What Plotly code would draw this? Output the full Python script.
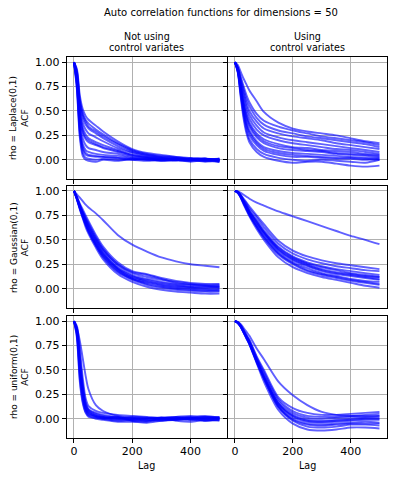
import plotly.graph_objects as go
from plotly.subplots import make_subplots

lags = [0, 10, 20, 30, 40, 50, 75, 100, 150, 200, 250, 300, 350, 400, 450, 499]

row_names = ["Laplace(0,1)", "Gaussian(0,1)", "uniform(0,1)"]
col_names = [["Not using", "control variates"], ["Using", "control variates"]]

laplace_plain = [
    [1, 0.93, 0.66, 0.52, 0.45, 0.41, 0.35, 0.29, 0.19, 0.11, 0.07, 0.05, 0.03, 0.02, 0.01, 0.00],
    [1, 0.91, 0.62, 0.48, 0.41, 0.37, 0.31, 0.26, 0.17, 0.10, 0.06, 0.04, 0.03, 0.01, 0.00, 0.01],
    [1, 0.89, 0.58, 0.43, 0.36, 0.32, 0.27, 0.22, 0.14, 0.08, 0.05, 0.03, 0.02, 0.00, 0.01, -0.01],
    [1, 0.87, 0.54, 0.38, 0.31, 0.27, 0.23, 0.19, 0.12, 0.07, 0.04, 0.02, 0.01, 0.01, 0.00, 0.00],
    [1, 0.85, 0.50, 0.33, 0.26, 0.22, 0.18, 0.15, 0.10, 0.05, 0.03, 0.02, 0.00, -0.01, 0.00, -0.02],
    [1, 0.83, 0.45, 0.28, 0.21, 0.18, 0.15, 0.12, 0.08, 0.04, 0.02, 0.01, 0.01, 0.00, -0.01, 0.01],
    [1, 0.81, 0.40, 0.22, 0.15, 0.12, 0.10, 0.08, 0.06, 0.03, 0.02, 0.00, 0.00, -0.01, 0.00, -0.01],
    [1, 0.79, 0.35, 0.16, 0.10, 0.08, 0.06, 0.05, 0.04, 0.02, 0.01, 0.01, 0.00, 0.00, -0.02, 0.00],
    [1, 0.77, 0.30, 0.11, 0.05, 0.04, 0.03, 0.03, 0.02, 0.01, 0.00, 0.00, -0.01, 0.00, 0.01, -0.02],
    [1, 0.74, 0.26, 0.07, 0.02, 0.01, 0.00, 0.01, 0.00, 0.00, -0.01, 0.00, 0.00, -0.02, 0.00, 0.01],
    [1, 0.72, 0.23, 0.04, 0.00, -0.01, -0.02, 0.00, -0.01, 0.01, 0.00, -0.01, 0.00, 0.00, -0.01, -0.02],
    [1, 0.90, 0.60, 0.46, 0.39, 0.34, 0.29, 0.24, 0.16, 0.09, 0.05, 0.03, 0.02, 0.01, 0.01, 0.00],
    [1, 0.86, 0.48, 0.30, 0.23, 0.20, 0.16, 0.13, 0.09, 0.05, 0.03, 0.01, 0.01, 0.00, 0.01, -0.01],
    [1, 0.78, 0.33, 0.13, 0.07, 0.05, 0.04, 0.03, 0.02, 0.00, 0.01, -0.01, 0.00, 0.01, -0.01, 0.00],
]

laplace_cv = [
    [1, 0.97, 0.90, 0.83, 0.77, 0.71, 0.60, 0.49, 0.38, 0.32, 0.29, 0.27, 0.25, 0.22, 0.19, 0.17],
    [1, 0.95, 0.85, 0.75, 0.66, 0.59, 0.47, 0.40, 0.34, 0.30, 0.27, 0.24, 0.22, 0.20, 0.18, 0.15],
    [1, 0.94, 0.83, 0.72, 0.62, 0.55, 0.43, 0.36, 0.30, 0.27, 0.24, 0.22, 0.20, 0.18, 0.16, 0.13],
    [1, 0.94, 0.81, 0.69, 0.58, 0.50, 0.39, 0.32, 0.27, 0.24, 0.22, 0.20, 0.17, 0.15, 0.13, 0.11],
    [1, 0.93, 0.79, 0.66, 0.54, 0.46, 0.35, 0.28, 0.23, 0.20, 0.18, 0.16, 0.14, 0.12, 0.10, 0.08],
    [1, 0.93, 0.77, 0.62, 0.50, 0.42, 0.31, 0.25, 0.20, 0.17, 0.15, 0.13, 0.11, 0.10, 0.08, 0.06],
    [1, 0.92, 0.75, 0.58, 0.46, 0.38, 0.27, 0.21, 0.16, 0.13, 0.12, 0.10, 0.09, 0.08, 0.06, 0.05],
    [1, 0.92, 0.73, 0.55, 0.42, 0.34, 0.23, 0.17, 0.12, 0.10, 0.09, 0.08, 0.06, 0.05, 0.04, 0.03],
    [1, 0.91, 0.71, 0.52, 0.38, 0.30, 0.19, 0.13, 0.09, 0.07, 0.06, 0.05, 0.04, 0.03, 0.02, 0.02],
    [1, 0.90, 0.68, 0.48, 0.34, 0.25, 0.15, 0.09, 0.05, 0.03, 0.03, 0.02, 0.01, 0.01, 0.00, 0.01],
    [1, 0.90, 0.66, 0.45, 0.30, 0.21, 0.11, 0.06, 0.02, 0.00, -0.01, 0.00, -0.01, -0.02, -0.03, 0.00],
    [1, 0.89, 0.64, 0.42, 0.27, 0.18, 0.08, 0.03, -0.01, -0.03, -0.02, -0.02, -0.04, -0.06, -0.07, -0.06],
    [1, 0.92, 0.74, 0.57, 0.44, 0.36, 0.25, 0.19, 0.14, 0.12, 0.10, 0.09, 0.07, 0.06, 0.05, 0.04],
    [1, 0.91, 0.70, 0.50, 0.36, 0.28, 0.17, 0.11, 0.07, 0.05, 0.04, 0.03, 0.02, 0.02, 0.01, 0.00],
]

gauss_plain = [
    [1, 0.965, 0.93, 0.895, 0.86, 0.83, 0.77, 0.70, 0.55, 0.45, 0.38, 0.32, 0.28, 0.25, 0.235, 0.22],
    [1, 0.94, 0.87, 0.81, 0.75, 0.69, 0.55, 0.43, 0.27, 0.18, 0.15, 0.11, 0.08, 0.06, 0.05, 0.05],
    [1, 0.935, 0.86, 0.79, 0.73, 0.67, 0.53, 0.41, 0.25, 0.16, 0.12, 0.09, 0.07, 0.05, 0.04, 0.04],
    [1, 0.93, 0.85, 0.78, 0.71, 0.65, 0.51, 0.39, 0.23, 0.14, 0.10, 0.07, 0.05, 0.04, 0.03, 0.02],
    [1, 0.925, 0.84, 0.77, 0.70, 0.63, 0.49, 0.37, 0.21, 0.13, 0.08, 0.05, 0.03, 0.02, 0.01, 0.02],
    [1, 0.92, 0.83, 0.75, 0.68, 0.61, 0.47, 0.35, 0.20, 0.11, 0.07, 0.04, 0.02, 0.01, 0.00, 0.00],
    [1, 0.92, 0.83, 0.74, 0.66, 0.59, 0.45, 0.33, 0.18, 0.10, 0.05, 0.02, 0.00, -0.01, -0.02, -0.01],
    [1, 0.915, 0.82, 0.73, 0.65, 0.58, 0.44, 0.32, 0.17, 0.09, 0.04, 0.01, -0.01, -0.02, -0.03, -0.03],
    [1, 0.91, 0.81, 0.72, 0.63, 0.56, 0.42, 0.30, 0.15, 0.07, 0.02, -0.01, -0.03, -0.04, -0.05, -0.05],
    [1, 0.93, 0.85, 0.78, 0.71, 0.65, 0.51, 0.40, 0.25, 0.17, 0.14, 0.10, 0.06, 0.04, 0.03, 0.03],
    [1, 0.925, 0.84, 0.76, 0.69, 0.62, 0.48, 0.36, 0.21, 0.12, 0.09, 0.06, 0.04, 0.02, 0.02, 0.01],
    [1, 0.92, 0.82, 0.74, 0.66, 0.59, 0.45, 0.34, 0.19, 0.10, 0.06, 0.03, 0.01, 0.00, -0.01, -0.02],
]

gauss_cv = [
    [1, 0.995, 0.98, 0.96, 0.94, 0.92, 0.88, 0.85, 0.79, 0.74, 0.69, 0.64, 0.59, 0.54, 0.50, 0.455],
    [1, 0.99, 0.96, 0.92, 0.88, 0.84, 0.75, 0.66, 0.49, 0.39, 0.33, 0.29, 0.26, 0.24, 0.22, 0.20],
    [1, 0.99, 0.955, 0.91, 0.87, 0.82, 0.73, 0.63, 0.46, 0.36, 0.30, 0.26, 0.23, 0.21, 0.19, 0.18],
    [1, 0.99, 0.95, 0.90, 0.85, 0.80, 0.70, 0.60, 0.43, 0.33, 0.27, 0.23, 0.20, 0.18, 0.16, 0.14],
    [1, 0.985, 0.945, 0.89, 0.84, 0.79, 0.68, 0.58, 0.41, 0.31, 0.25, 0.20, 0.17, 0.15, 0.13, 0.12],
    [1, 0.985, 0.94, 0.88, 0.83, 0.77, 0.66, 0.56, 0.39, 0.29, 0.23, 0.18, 0.15, 0.13, 0.11, 0.09],
    [1, 0.98, 0.94, 0.88, 0.82, 0.76, 0.64, 0.54, 0.37, 0.27, 0.21, 0.16, 0.13, 0.10, 0.08, 0.07],
    [1, 0.98, 0.935, 0.87, 0.81, 0.75, 0.63, 0.52, 0.35, 0.25, 0.18, 0.14, 0.11, 0.08, 0.06, 0.04],
    [1, 0.98, 0.93, 0.86, 0.80, 0.74, 0.61, 0.50, 0.32, 0.22, 0.16, 0.12, 0.09, 0.06, 0.03, 0.01],
    [1, 0.985, 0.95, 0.90, 0.84, 0.79, 0.69, 0.58, 0.42, 0.32, 0.26, 0.22, 0.19, 0.16, 0.14, 0.12],
    [1, 0.985, 0.94, 0.885, 0.83, 0.78, 0.67, 0.57, 0.40, 0.30, 0.24, 0.19, 0.16, 0.14, 0.12, 0.10],
    [1, 0.98, 0.935, 0.875, 0.815, 0.755, 0.635, 0.53, 0.36, 0.26, 0.19, 0.15, 0.12, 0.09, 0.07, 0.05],
]

unif_plain = [
    [1, 0.93, 0.80, 0.62, 0.44, 0.30, 0.14, 0.08, 0.03, 0.01, 0.00, 0.01, 0.00, 0.01, 0.00, 0.01],
    [1, 0.95, 0.72, 0.42, 0.21, 0.13, 0.08, 0.06, 0.04, 0.03, 0.02, 0.01, 0.02, 0.03, 0.02, 0.02],
    [1, 0.93, 0.65, 0.36, 0.17, 0.10, 0.06, 0.04, 0.02, 0.01, 0.00, 0.01, 0.02, 0.01, 0.03, 0.01],
    [1, 0.91, 0.58, 0.30, 0.14, 0.08, 0.04, 0.02, 0.00, 0.02, 0.01, -0.01, 0.00, 0.02, 0.00, 0.01],
    [1, 0.89, 0.52, 0.26, 0.11, 0.06, 0.03, 0.01, -0.01, 0.00, -0.02, 0.00, 0.01, 0.00, 0.01, 0.00],
    [1, 0.87, 0.46, 0.22, 0.09, 0.04, 0.02, 0.00, -0.02, -0.01, -0.01, -0.02, 0.00, -0.01, -0.02, -0.01],
    [1, 0.85, 0.41, 0.18, 0.07, 0.03, 0.00, -0.01, -0.03, -0.03, -0.04, -0.02, -0.01, 0.01, -0.02, 0.00],
    [1, 0.83, 0.38, 0.16, 0.06, 0.02, 0.01, 0.00, 0.02, -0.02, -0.03, 0.00, -0.02, -0.03, -0.01, -0.02],
    [1, 0.90, 0.55, 0.28, 0.12, 0.07, 0.03, 0.02, 0.01, -0.01, 0.00, 0.01, -0.01, 0.00, 0.02, 0.00],
    [1, 0.92, 0.62, 0.33, 0.15, 0.09, 0.05, 0.03, 0.01, 0.00, 0.01, 0.00, 0.01, -0.01, 0.01, 0.01],
    [1, 0.88, 0.49, 0.24, 0.10, 0.05, 0.02, 0.01, 0.00, -0.02, -0.02, -0.01, -0.01, 0.00, -0.01, -0.01],
]

unif_cv = [
    [1, 0.99, 0.97, 0.93, 0.89, 0.85, 0.72, 0.61, 0.38, 0.24, 0.14, 0.07, 0.04, 0.03, 0.03, 0.03],
    [1, 0.99, 0.96, 0.91, 0.86, 0.81, 0.64, 0.50, 0.22, 0.11, 0.06, 0.04, 0.04, 0.05, 0.06, 0.07],
    [1, 0.99, 0.955, 0.905, 0.85, 0.80, 0.63, 0.48, 0.20, 0.08, 0.03, 0.02, 0.02, 0.03, 0.04, 0.05],
    [1, 0.985, 0.95, 0.90, 0.845, 0.79, 0.615, 0.46, 0.18, 0.06, 0.01, 0.00, 0.01, 0.02, 0.02, 0.03],
    [1, 0.985, 0.95, 0.895, 0.84, 0.78, 0.605, 0.44, 0.16, 0.04, -0.01, -0.02, -0.01, 0.00, 0.01, 0.01],
    [1, 0.985, 0.945, 0.89, 0.835, 0.775, 0.595, 0.43, 0.15, 0.02, -0.03, -0.04, -0.03, -0.02, -0.01, -0.01],
    [1, 0.98, 0.945, 0.885, 0.83, 0.77, 0.585, 0.42, 0.13, 0.00, -0.05, -0.06, -0.05, -0.04, -0.03, -0.04],
    [1, 0.98, 0.94, 0.885, 0.825, 0.765, 0.58, 0.41, 0.12, -0.02, -0.08, -0.09, -0.08, -0.06, -0.06, -0.07],
    [1, 0.98, 0.94, 0.88, 0.82, 0.76, 0.57, 0.38, 0.09, -0.05, -0.11, -0.12, -0.11, -0.09, -0.09, -0.10],
    [1, 0.985, 0.948, 0.893, 0.838, 0.778, 0.60, 0.435, 0.155, 0.03, -0.02, -0.03, -0.02, -0.01, 0.00, 0.00],
    [1, 0.982, 0.942, 0.887, 0.828, 0.768, 0.583, 0.415, 0.125, -0.01, -0.06, -0.07, -0.06, -0.05, -0.05, -0.05],
]

panels = [
    (laplace_plain, 1, 1), (laplace_cv, 1, 2),
    (gauss_plain, 2, 1), (gauss_cv, 2, 2),
    (unif_plain, 3, 1), (unif_cv, 3, 2),
]

# the page body adds an 8px margin, so the figure is drawn 8px in from the corner
PAD = 8
W, H = 399 - PAD, 480 - PAD
col_px = [(66.7, 226.7), (227.7, 386.7)]
row_px = [(57.3, 179.3), (186.0, 308.3), (316.3, 438.3)]
FONT = "DejaVu Sans"


def fx(px):
    return (px - PAD) / W


def fy(py):
    return 1 - (py - PAD) / H


fig = make_subplots(rows=3, cols=2)

for curves, r, c in panels:
    for acf in curves:
        fig.add_trace(go.Scatter(x=lags, y=acf, mode="lines",
                                 line=dict(color="#0000ff", width=1.9, shape="spline", smoothing=0.8),
                                 opacity=0.62, showlegend=False, hoverinfo="skip"),
                      row=r, col=c)

axis_style = dict(showline=True, mirror=True, linecolor="black", linewidth=1,
                  showgrid=True, gridcolor="#b0b0b0", gridwidth=0.9, zeroline=False,
                  ticks="outside", ticklen=4, tickwidth=1, tickcolor="black", automargin=False,
                  tickfont=dict(family=FONT, size=11, color="black"))

for r in range(1, 4):
    y0, y1 = row_px[r - 1]
    for c in range(1, 3):
        x0, x1 = col_px[c - 1]
        fig.update_xaxes(domain=[fx(x0), fx(x1)], range=[-25, 524], tickvals=[0, 200, 400],
                         showticklabels=(r == 3), ticklabelstandoff=-2, row=r, col=c, **axis_style)
        fig.update_yaxes(domain=[fy(y1), fy(y0)], range=[-0.2, 1.05],
                         tickvals=[0, 0.25, 0.5, 0.75, 1.0], tickformat=".2f",
                         showticklabels=(c == 1), row=r, col=c, **axis_style)


def note(text, px, py, size, angle=0):
    fig.add_annotation(text=text, x=fx(px), y=fy(py), xref="paper", yref="paper",
                       xanchor="center", yanchor="middle", showarrow=False, textangle=angle,
                       borderpad=0, font=dict(family=FONT, size=size, color="black"))


note("Auto correlation functions for dimensions = 50", 221.3, 13, 10)
for (x0, x1), lines in zip(col_px, col_names):
    note(lines[0], (x0 + x1) / 2, 36.7, 9.6)
    note(lines[1], (x0 + x1) / 2, 47.7, 9.6)
    note("Lag", (x0 + x1) / 2, 465.7, 9.6)
for (y0, y1), name in zip(row_px, row_names):
    note("rho = " + name + "<br>ACF", 19.8, (y0 + y1) / 2, 9.0, -90)

fig.update_layout(width=W, height=H, autosize=False, template="none",
                  margin=dict(l=0, r=0, t=0, b=0),
                  paper_bgcolor="white", plot_bgcolor="white")

fig.write_html("out.html")
